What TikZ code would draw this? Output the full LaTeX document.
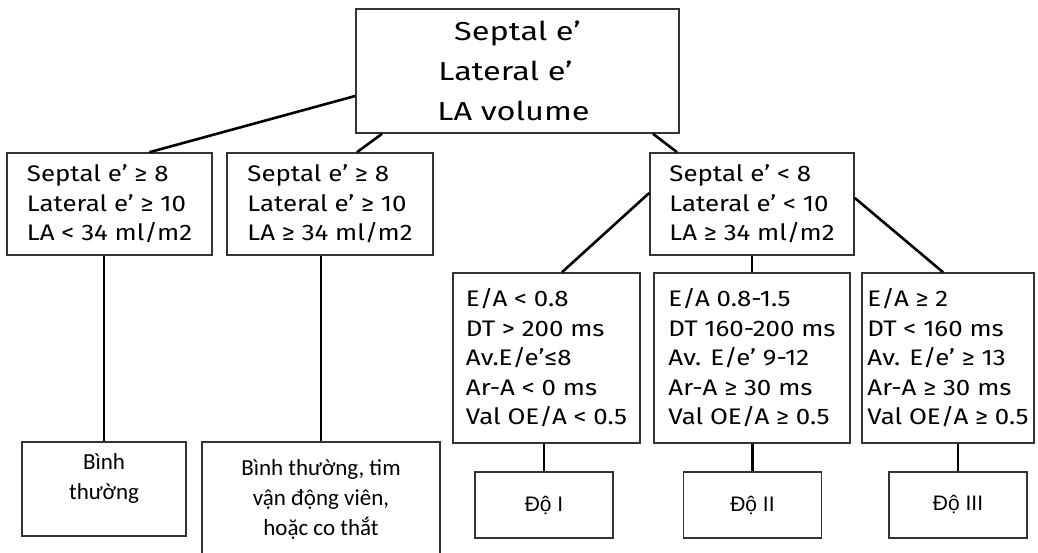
\documentclass[tikz,border=0pt]{standalone}
\usepackage{fontspec}
\usepackage{tikz}
\newfontfamily\firafont[FakeStretch=1.15]{Fira Sans}
\newfontfamily\firawide[FakeStretch=1.25]{Fira Sans}
\newfontfamily\calfont{Carlito}
\newfontfamily\arialfont{Liberation Sans}
\tikzstyle{rootbox} = [rectangle, minimum width=323pt, minimum height=124pt, align=center, draw=black!80, line width=1.6pt, font=\firawide\fontsize{26}{40}\selectfont]
\tikzstyle{condbox} = [rectangle, minimum width=205pt, minimum height=102pt, align=left, draw=black!80, line width=1.6pt, font=\firafont\fontsize{22.5}{29.5}\selectfont]
\tikzstyle{echobox} = [rectangle, minimum height=170pt, align=left, draw=black!80, line width=1.6pt, font=\firafont\fontsize{22.5}{29.5}\selectfont]
\tikzstyle{resultbox} = [rectangle, align=center, draw=black!80, line width=1.6pt, font=\calfont\fontsize{23}{30}\selectfont]
\tikzstyle{gradebox} = [rectangle, minimum width=138pt, minimum height=66pt, draw=black!80, line width=1.6pt, font=\arialfont\fontsize{21}{25}\selectfont]
\tikzstyle{link} = [line width=2.6pt]

\begin{document}
\begin{tikzpicture}[node distance=133pt]
      \useasboundingbox (0,0) rectangle (1038pt,-553pt);
      \clip (0,0) rectangle (1038pt,-553pt);
      \node (top)[rootbox] at (517.5pt,-71pt) {Septal e’\\Lateral e’\kern24pt\\LA volume\kern8pt};
      % first split
      \node (A)[condbox, below of=top, xshift=-408pt]{Septal e’ ≥ 8\\Lateral e’ ≥ 10\\LA < 34 ml/m2};
      \node (B)[condbox, below of=top, xshift=-187.5pt, minimum width=206pt]{Septal e’ ≥ 8\\Lateral e’ ≥ 10\\LA ≥ 34 ml/m2};
      \node (C)[condbox, below of=top, xshift=234.5pt, minimum width=204pt]{Septal e’ < 8\\Lateral e’ < 10\\LA ≥ 34 ml/m2};
      % echo criteria
      \node (D)[echobox, below of=C, xshift=-205.5pt, yshift=-21pt, minimum width=187pt]{E/A < 0.8\\DT > 200 ms\\Av.E/e’≤8\\Ar-A < 0 ms\\Val OE/A < 0.5};
      \node (E)[echobox, below of=C, yshift=-21pt, minimum width=196pt]{E/A 0.8-1.5\\DT 160-200 ms\\Av. E/e’ 9-12\\Ar-A ≥ 30 ms\\Val OE/A ≥ 0.5};
      \node (F)[echobox, below of=C, xshift=196pt, yshift=-21pt, minimum width=172pt]{E/A ≥ 2\\DT < 160 ms\\Av. E/e’ ≥ 13\\Ar-A ≥ 30 ms\\Val OE/A ≥ 0.5};
      % results
      \node (bt)[resultbox, below of=A, xshift=-5.5pt, yshift=-152pt, minimum width=164pt, minimum height=94pt]{Bình\\thường\\[-6pt]};
      \node (bt2)[resultbox, below of=B, xshift=-9pt, yshift=-162pt, minimum width=238pt, minimum height=114pt]{Bình thường, tim\\vận động viên,\\hoặc co thắt};
      \node (g1)[gradebox, below of=D, xshift=-2.5pt, yshift=-14pt]{\raisebox{-4pt}{Độ I}};
      \node (g2)[gradebox, below of=E, xshift=0.5pt, yshift=-14pt]{\raisebox{-4pt}{Độ II}};
      \node (g3)[gradebox, below of=F, xshift=10pt, yshift=-14pt]{\raisebox{4pt}{Độ III}};
      \draw [link]([yshift=-25pt]top.west)--([xshift=40pt]A.north);
      \draw [link]([xshift=-135.5pt]top.south)--([xshift=27pt]B.north);
      \draw [link]([xshift=135.5pt]top.south)--([xshift=-75pt]C.north);
      \draw [link]([yshift=11pt]C.west)--([xshift=15.5pt]D.north);
      \draw [link](C.south)--(E.north);
      \draw [link]([yshift=6pt]C.east)--([xshift=-5pt]F.north);
      \draw [link](bt.north)--(bt.north |- A.south);
      \draw [link](bt2.north)--(bt2.north |- B.south);
      \draw [link](g1.north)--(g1.north |- D.south);
      \draw [link](g2.north)--(g2.north |- E.south);
      \draw [link](g3.north)--(g3.north |- F.south);
    \end{tikzpicture}
\end{document}
